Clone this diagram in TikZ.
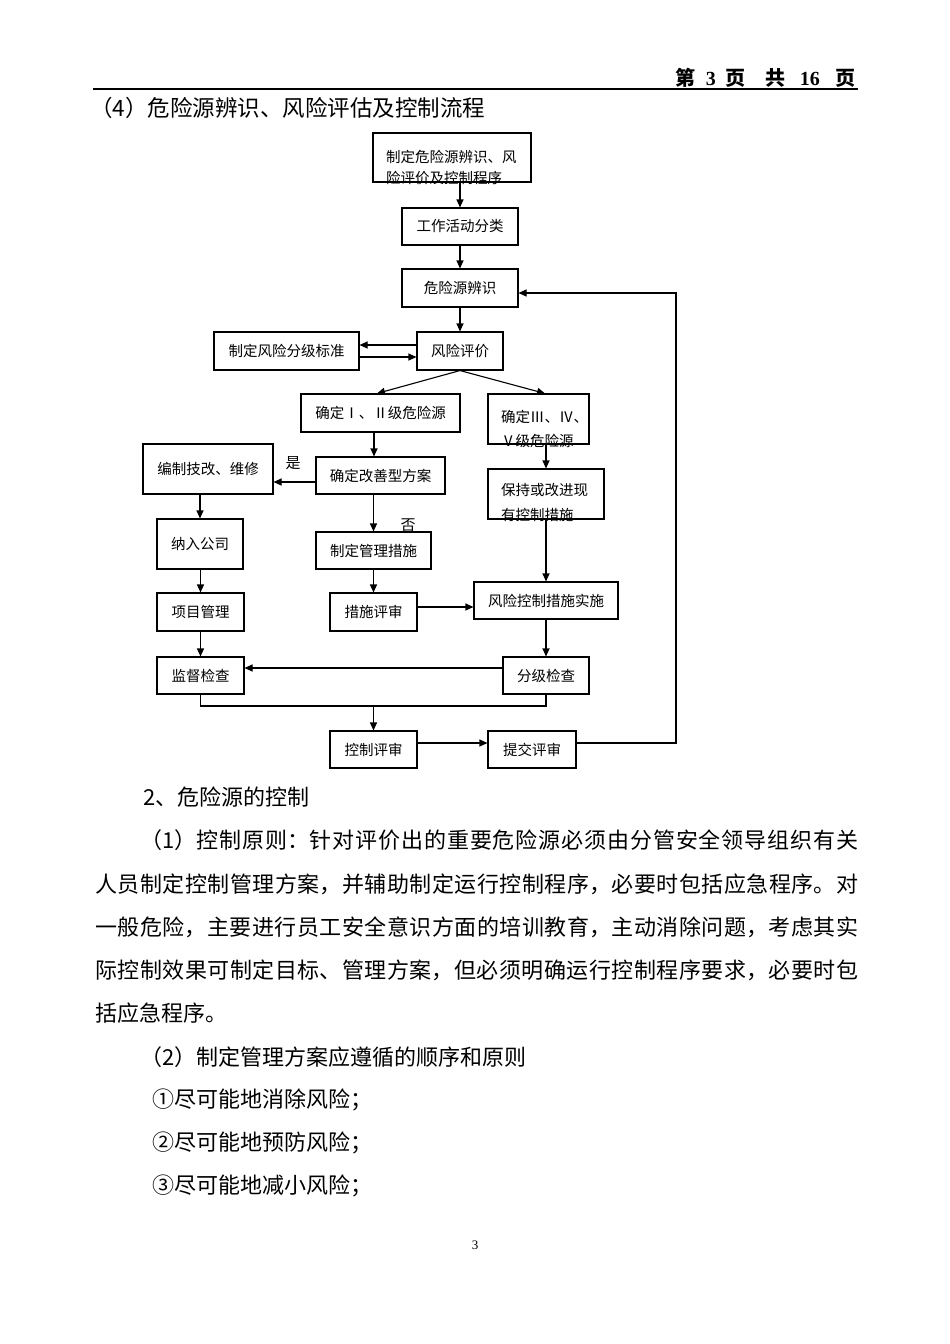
\documentclass[tikz,border=0pt]{standalone}
\usepackage{fontspec}
\setmainfont{Noto Sans CJK SC}
\newfontfamily\tnr{Liberation Serif}
\usetikzlibrary{arrows.meta}
\XeTeXlinebreaklocale "zh"
\XeTeXlinebreakskip=0pt plus 3pt minus 0.2pt
\newcommand\lbl{\fontsize{14.5}{17}\selectfont}
\newcommand\body{\fontsize{22}{26}\selectfont}
\newcommand\lp{\makebox[1em][r]{（}}
\newcommand\rp{\makebox[1em][l]{）}}
\begin{document}
\begin{tikzpicture}[x=1pt,y=-1pt,
    box/.style={draw, line width=1.1pt, inner sep=0pt, font=\lbl},
    arr/.style={line width=1.1pt, -{Triangle[length=8pt,width=7pt]}},
    link/.style={line width=1.1pt},
    txt/.style={anchor=west, inner sep=0pt, font=\body},
    full/.style={txt, text width=#1pt, align=justify}]
    \useasboundingbox[fill=white] (0,0) rectangle (950,1344);
    % header
    \node[anchor=east, inner sep=0pt, font=\fontsize{20}{24}\selectfont\bfseries] (page) at (856,78)
        {第\hspace{10pt}{\tnr 3}\hspace{10pt}页\hspace{20pt}共\hspace{14pt}{\tnr 16}\hspace{16pt}页};
    \draw[line width=1.5pt] (93,89) -- (858,89);
    \node[txt, font=\fontsize{22.5}{26}\selectfont] (title) at (90,108) {\lp 4\rp 危险源辨识、风险评估及控制流程};

    % flow chart
    \node[box, minimum width=158, minimum height=49] (prog) at (452,157.5) {};
    \node[anchor=west, inner sep=0pt, font=\lbl] (prog1) at (386,157) {制定危险源辨识、风};
    \node[anchor=west, inner sep=0pt, font=\lbl] (prog2) at (386,178) {险评价及控制程序};
    \node[box, minimum width=116, minimum height=37] (cls) at (460,226.5) {工作活动分类};
    \node[box, minimum width=116, minimum height=38] (iden) at (460,288) {危险源辨识};
    \node[box, minimum width=86, minimum height=38] (eval) at (460,351) {风险评价};
    \node[box, minimum width=145, minimum height=38] (std) at (286.5,351) {制定风险分级标准};
    \node[box, minimum width=159, minimum height=38] (lv12) at (380.5,413) {确定Ⅰ、Ⅱ级危险源};
    \node[box, minimum width=101, minimum height=50] (lv35) at (538.5,419) {};
    \node[anchor=west, inner sep=0pt, font=\lbl] (lv35a) at (501,417) {确定Ⅲ、Ⅳ、};
    \node[anchor=west, inner sep=0pt, font=\lbl] (lv35b) at (501,441) {Ⅴ级危险源};
    \node[box, minimum width=130, minimum height=50] (tech) at (208,469) {编制技改、维修};
    \node[box, minimum width=129, minimum height=37] (plan) at (380.5,475.5) {确定改善型方案};
    \node[box, minimum width=116, minimum height=50] (keep) at (546,494) {};
    \node[anchor=west, inner sep=0pt, font=\lbl] (keep1) at (501,490) {保持或改进现};
    \node[anchor=west, inner sep=0pt, font=\lbl] (keep2) at (501,515) {有控制措施};
    \node[box, minimum width=86, minimum height=50] (comp) at (200,544) {纳入公司};
    \node[box, minimum width=115, minimum height=37] (mgmt) at (373.5,550.5) {制定管理措施};
    \node[box, minimum width=87, minimum height=38] (proj) at (200.5,612) {项目管理};
    \node[box, minimum width=87, minimum height=38] (rev) at (373.5,612) {措施评审};
    \node[box, minimum width=144, minimum height=37] (impl) at (546,600.5) {风险控制措施实施};
    \node[box, minimum width=87, minimum height=37] (insp) at (200.5,675.5) {监督检查};
    \node[box, minimum width=86, minimum height=37] (grade) at (546,675.5) {分级检查};
    \node[box, minimum width=87, minimum height=37] (ctrl) at (373.5,749.5) {控制评审};
    \node[box, minimum width=88, minimum height=37] (subm) at (532,749.5) {提交评审};
    \node[inner sep=0pt, font=\fontsize{15}{18}\selectfont] (yes) at (293,463) {是};
    \node[inner sep=0pt, font=\fontsize{15}{18}\selectfont] (no) at (408,525) {否};

    \draw[arr] (prog.south -| cls.north) -- (cls.north);
    \draw[arr] (cls) -- (iden);
    \draw[arr] (iden) -- (eval);
    \draw[arr] ([yshift=6]eval.west) -- ([yshift=6]std.east);
    \draw[arr] ([yshift=-6]std.east) -- ([yshift=-6]eval.west);
    \draw[arr] (eval.south) -- ([xshift=-3.5]lv12.north);
    \draw[arr] (eval.south) -- ([xshift=6.5]lv35.north);
    \draw[arr] ([xshift=-6.5]lv12.south) -- ([xshift=-6.5]plan.north);
    \draw[arr] ([yshift=-6.5]plan.west) -- ([yshift=-6.5]plan.west -| tech.east);
    \draw[arr] (tech.south -| comp.north) -- (comp.north);
    \draw[arr] ([xshift=-7]plan.south) -- (mgmt.north);
    \draw[arr] (lv35.south -| keep.north) -- (keep.north);
    \draw[arr] (keep) -- (impl);
    \draw[arr] (comp.south -| proj.north) -- (proj.north);
    \draw[arr] (mgmt) -- (rev);
    \draw[arr] ([yshift=5]rev.east) -- ([yshift=5]rev.east -| impl.west);
    \draw[arr] (impl) -- (grade);
    \draw[arr] (proj) -- (insp);
    \draw[arr] ([yshift=7.5]grade.west) -- ([yshift=7.5]grade.west -| insp.east);
    \coordinate (mrg) at (373.5,706);
    \draw[link] (insp.south) |- (mrg) -| (grade.south);
    \draw[arr] (mrg) -- (ctrl);
    \draw[arr] ([yshift=6.5]ctrl.east) -- ([yshift=6.5]ctrl.east -| subm.west);
    \coordinate (fb1) at (676,743);
    \coordinate (fb2) at (676,293);
    \draw[arr] ([yshift=6.5]subm.east) -- (fb1) -- (fb2) -- (fb2 -| iden.east);

    % text below
    \node[txt] (sec) at (143,797) {2、危险源的控制};
    \node[full=718] (l1) at (140,840) {\parindent=0pt\parfillskip=0pt \lp 1\rp 控制原则：针对评价出的重要危险源必须由分管安全领导组织有关\par};
    \node[full=763] (l2) at (95,884) {\parindent=0pt\parfillskip=0pt 人员制定控制管理方案，并辅助制定运行控制程序，必要时包括应急程序。对\par};
    \node[full=763] (l3) at (95,927) {\parindent=0pt\parfillskip=0pt 一般危险，主要进行员工安全意识方面的培训教育，主动消除问题，考虑其实\par};
    \node[full=763] (l4) at (95,970) {\parindent=0pt\parfillskip=0pt 际控制效果可制定目标、管理方案，但必须明确运行控制程序要求，必要时包\par};
    \node[txt] (l5) at (95,1013) {括应急程序。};
    \node[txt] (rule) at (140,1057) {\lp 2\rp 制定管理方案应遵循的顺序和原则};
    \node[txt] (i1) at (152,1100) {①尽可能地消除风险\makebox[1em][c]{；}};
    \node[txt] (i2) at (152,1143) {②尽可能地预防风险\makebox[1em][c]{；}};
    \node[txt] (i3) at (152,1186) {③尽可能地减小风险\makebox[1em][c]{；}};
    \node[inner sep=0pt, font=\tnr\fontsize{13}{15}\selectfont] (num) at (475,1245) {3};
\end{tikzpicture}
\end{document}
